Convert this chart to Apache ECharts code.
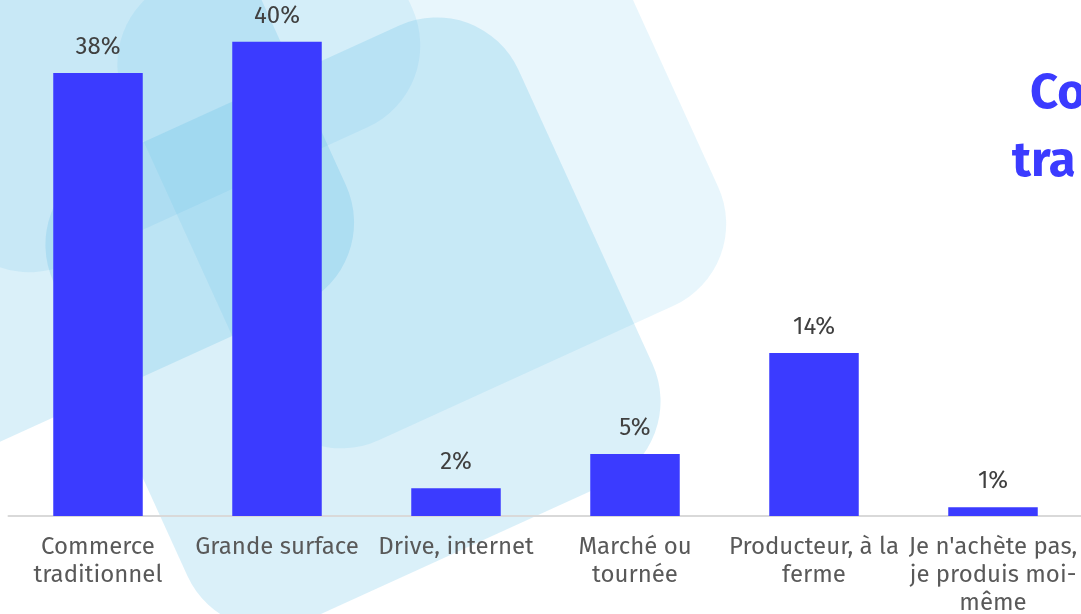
<!DOCTYPE html>
<html>
<head>
<meta charset="utf-8">
<script src="https://cdn.jsdelivr.net/npm/echarts@6/dist/echarts.min.js"></script>
<style>
html,body{margin:0;padding:0;background:#ffffff;}
#chart{width:1081px;height:614px;}
</style>
</head>
<body>
<div id="chart"></div>
<script>
// ---- data ----
const categories = [
  'Commerce\ntraditionnel',
  'Grande surface',
  'Drive, internet',
  'Marché ou\ntournée',
  'Producteur, à la\nferme',
  "Je n'achète pas,\nje produis moi-\nmême"
];
const values = [37.67, 40.33, 2.36, 5.27, 13.86, 0.74];
const titleLines = ['Co', 'tra'];

// ---- decorative background (rotated rounded squares) ----
const decorAngle = 24.5 * Math.PI / 180;
const decorCx = [45.5, 111.7, 421.8, 353];
const decorCy = [140.8, -36.3, 144.2, 323];
const decorW = [510, 510, 504, 511];
const decorH = [510, 510, 503, 503];
const decorAlpha = [0.206, 0.12, 0.128, 0.206];

const FONT = "'Fira Sans', 'Noto Sans', sans-serif";
const BLUE = '#3b3bff';

const graphics = decorCx.map((cx, i) => ({
  type: 'rect',
  x: cx, y: decorCy[i],
  rotation: decorAngle,
  z: -10,
  silent: true,
  shape: { x: -decorW[i] / 2, y: -decorH[i] / 2, width: decorW[i], height: decorH[i], r: 90 },
  style: { fill: 'rgba(75,183,228,' + decorAlpha[i] + ')' }
}));

const chart = echarts.init(document.getElementById('chart'));
chart.setOption({
  backgroundColor: '#ffffff',
  animation: false,
  title: [
    { text: titleLines[0], left: 1030, top: 70, padding: 0,
      textStyle: { color: BLUE, fontFamily: FONT, fontWeight: 'bold', fontSize: 49, lineHeight: 49 } },
    { text: titleLines[1], left: 1012, top: 138, padding: 0,
      textStyle: { color: BLUE, fontFamily: FONT, fontWeight: 'bold', fontSize: 49, lineHeight: 49 } }
  ],
  graphic: { elements: graphics },
  grid: { left: 8.5, width: 1074, top: 1, height: 515, containLabel: false, outerBoundsMode: 'none' },
  xAxis: {
    type: 'category',
    data: categories,
    axisTick: { show: false },
    axisLine: { lineStyle: { color: '#d9d9d9', width: 2 } },
    axisLabel: {
      interval: 0, margin: 17,
      color: '#595959', fontFamily: FONT, fontSize: 24, lineHeight: 28
    }
  },
  yAxis: {
    type: 'value', min: 0, max: 43.8,
    show: false, splitLine: { show: false }
  },
  series: [{
    type: 'bar',
    data: values,
    barWidth: '50%',
    itemStyle: { color: BLUE },
    label: {
      show: true, position: 'top', distance: 14,
      color: '#404040', fontFamily: FONT, fontSize: 24,
      formatter: p => Math.round(p.value) + '%'
    }
  }]
});
</script>
</body>
</html>
